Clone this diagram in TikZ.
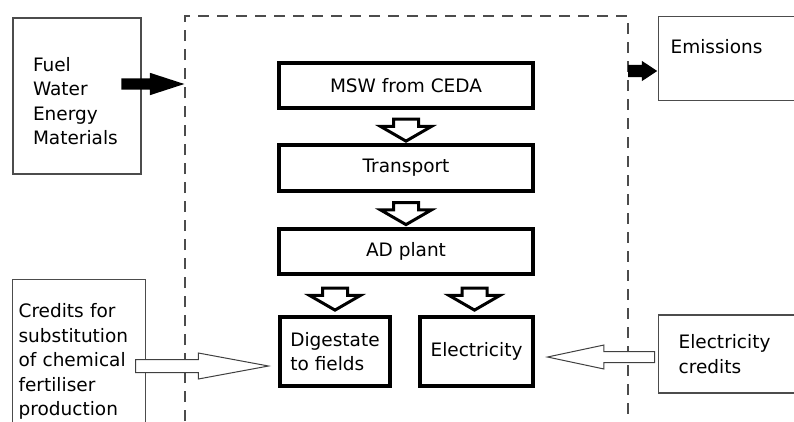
\documentclass[tikz,border=0pt]{standalone}
\usepackage{fontspec}
\setmainfont{DejaVu Sans}
\usetikzlibrary{shapes.arrows,calc}

\tikzset{
  stage/.style={draw, line width=4pt, minimum width=254pt, inner sep=0pt},
  sidebox/.style={draw=black!70, line width=1.2pt},
  boundary/.style={draw=black!70, line width=1.2pt, dash pattern=on 11pt off 8pt},
  flowarrow/.style={single arrow, draw, fill=white, line width=3pt, rotate=-90,
    inner xsep=0pt, inner ysep=11pt, minimum height=22pt,
    single arrow head extend=13pt, single arrow tip angle=120},
  creditarrow/.style={single arrow, draw=black!75, fill=white, line width=1pt, inner xsep=0pt},
  solidarrow/.style={single arrow, fill=black, inner xsep=0pt}
}

\begin{document}
\begin{tikzpicture}[x=1pt,y=-1pt,font=\fontsize{18.5}{24.5}\selectfont]
  \useasboundingbox (0,0) rectangle (794,421);
  \clip (0,0) rectangle (794,421);

  % system boundary, open at the bottom
  \draw[boundary] (185,421) -- (185,16) -- (628,16) -- (628,421);
  \coordinate (sysleft) at (185,84);
  \coordinate (sysright) at (628,71);

  % process chain
  \node[stage, minimum height=45pt] (msw) at (406,85.5) {MSW from CEDA};
  \node[stage, minimum height=46pt] (trans) at (406,168) {Transport};
  \node[stage, minimum height=45pt] (ad) at (406,251.5) {AD plant};
  \node[stage, minimum width=110pt, minimum height=69pt, align=left] (dig) at (335,351.5) {Digestate\\to fields};
  \node[stage, minimum width=113pt, minimum height=69pt] (elec) at (476.5,351.5) {Electricity};

  \node[flowarrow] (mswtrans) at ($(msw.south)!0.5!(trans.north)$) {};
  \node[flowarrow] (transad) at ($(trans.south)!0.5!(ad.north)$) {};
  \node[flowarrow] (addig) at ($(dig.north)!0.5!(dig.north |- ad.south)$) {};
  \node[flowarrow] (adelec) at ($([xshift=-2pt]elec.north)!0.5!([xshift=-2pt]elec.north |- ad.south)$) {};

  % inputs and outputs
  \node[sidebox, text width=88pt, inner xsep=20pt, inner ysep=5pt,
    text height=48pt, text depth=98pt, align=left] (fuel) at (77,96) {Fuel\\Water\\Energy\\Materials};
  \node[sidebox, anchor=north west, text width=148pt, inner xsep=12pt, inner ysep=7pt,
    text height=30pt, text depth=40pt, align=left] (emis) at (658,16) {Emissions};
  \node[sidebox, anchor=north west, text width=121pt, inner xsep=6pt, inner ysep=24pt,
    align=left] (cred) at (12,279) {Credits for\\substitution\\of chemical\\fertiliser\\production};
  \node[sidebox, anchor=west, text width=150pt, inner xsep=20pt, minimum height=78pt,
    align=left] (elcred) at (658,354) {Electricity\\credits};

  \node[solidarrow, anchor=tip, inner ysep=5.5pt, minimum height=63pt,
    single arrow head extend=5.5pt, single arrow tip angle=36] (fuelin) at (sysleft) {};
  \node[solidarrow, anchor=tail, inner ysep=6pt, minimum height=29pt,
    single arrow head extend=4pt, single arrow tip angle=67] (emisout) at (sysright) {};

  \node[creditarrow, anchor=tail, inner ysep=6pt, minimum height=133pt,
    single arrow head extend=6.5pt, single arrow tip angle=21] (fertcredit) at (135,366) {};
  \node[creditarrow, anchor=tail, shape border rotate=180, inner ysep=5pt, minimum height=107pt,
    single arrow head extend=6.5pt, single arrow tip angle=24] (eleccredit) at (655,357) {};
\end{tikzpicture}
\end{document}
